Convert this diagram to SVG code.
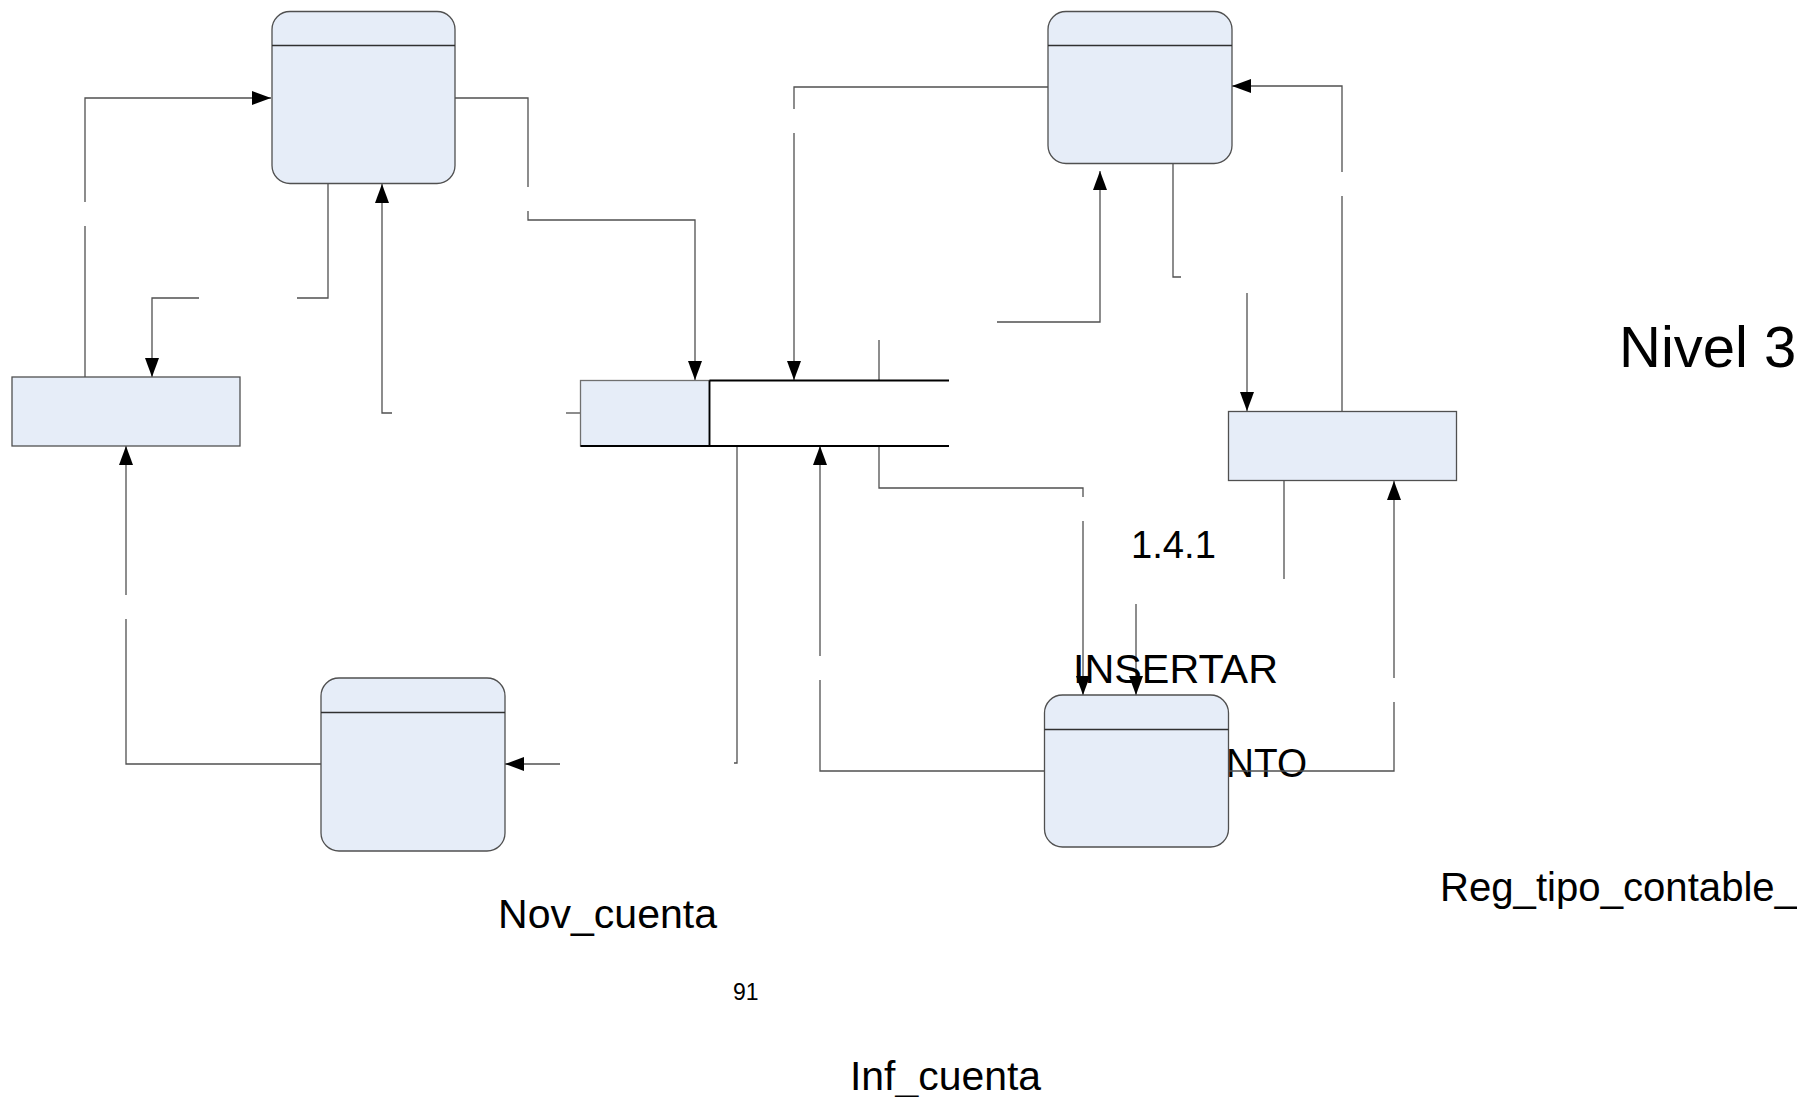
<svg xmlns="http://www.w3.org/2000/svg" width="1797" height="1097" viewBox="0 0 1797 1097">
<defs>
<style>
.node{fill:#E6EDF8;stroke:#505050;stroke-width:1.3}
.hdr{stroke:#303030;stroke-width:1.3;fill:none}
.ent{fill:#E6EDF8;stroke:#505050;stroke-width:1.3}
.con{fill:none;stroke:#505050;stroke-width:1.3}
.ds{stroke:#000000;stroke-width:1.8;fill:none}
.t{font-family:"Liberation Sans",Arial,sans-serif;fill:#000000}
</style>
<marker id="arr" markerUnits="userSpaceOnUse" markerWidth="20" markerHeight="14" refX="19" refY="7" orient="auto">
<path d="M0,0 L19,7 L0,14 z" fill="#000000"/>
</marker>
</defs>
<rect width="1797" height="1097" fill="#ffffff"/>

<g id="labels-behind">
<text class="t" x="1226" y="777" font-size="41" textLength="81" lengthAdjust="spacingAndGlyphs">NTO</text>
</g>

<g id="connectors">
<path class="con" d="M85,377 V226"/>
<path class="con" d="M85,202 V98 H271" marker-end="url(#arr)"/>
<path class="con" d="M328,184 V298 H297"/>
<path class="con" d="M199,298 H152 V377" marker-end="url(#arr)"/>
<path class="con" d="M580,413 H566"/>
<path class="con" d="M392,413 H382 V184" marker-end="url(#arr)"/>
<path class="con" d="M455,98 H528 V187"/>
<path class="con" d="M528,211 V220 H695 V380" marker-end="url(#arr)"/>
<path class="con" d="M1048,87 H794 V109"/>
<path class="con" d="M794,133 V380" marker-end="url(#arr)"/>
<path class="con" d="M879,340 V380"/>
<path class="con" d="M997,322 H1100 V171" marker-end="url(#arr)"/>
<path class="con" d="M1173,163 V277 H1181"/>
<path class="con" d="M1247,293 V411" marker-end="url(#arr)"/>
<path class="con" d="M1342,411 V196"/>
<path class="con" d="M1342,172 V86 H1232" marker-end="url(#arr)"/>
<path class="con" d="M737,446 V763 H734"/>
<path class="con" d="M560,764 H505" marker-end="url(#arr)"/>
<path class="con" d="M1044,771 H820 V680"/>
<path class="con" d="M820,656 V446" marker-end="url(#arr)"/>
<path class="con" d="M879,446 V488 H1083 V497"/>
<path class="con" d="M1083,521 V695" marker-end="url(#arr)"/>
<path class="con" d="M1136,604 V695" marker-end="url(#arr)"/>
<path class="con" d="M1284,481 V579"/>
<path class="con" d="M1229,771 H1394 V702"/>
<path class="con" d="M1394,678 V481" marker-end="url(#arr)"/>
<path class="con" d="M321,764 H126 V619"/>
<path class="con" d="M126,595 V446" marker-end="url(#arr)"/>
</g>

<g id="node-top-left">
<rect class="node" x="272" y="11.5" width="183" height="172" rx="18" ry="18"/>
<line class="hdr" x1="272" y1="45.5" x2="455" y2="45.5"/>
</g>
<g id="node-top-right">
<rect class="node" x="1048" y="11.5" width="184" height="152" rx="18" ry="18"/>
<line class="hdr" x1="1048" y1="45.5" x2="1232" y2="45.5"/>
</g>
<g id="node-bottom-left">
<rect class="node" x="321" y="678" width="184" height="173" rx="18" ry="18"/>
<line class="hdr" x1="321" y1="712.5" x2="505" y2="712.5"/>
</g>
<g id="node-bottom-right">
<rect class="node" x="1044.5" y="695" width="184" height="152" rx="18" ry="18"/>
<line class="hdr" x1="1044.5" y1="729.5" x2="1228.5" y2="729.5"/>
</g>
<g id="entity-left">
<rect class="ent" x="12" y="377" width="228" height="69"/>
</g>
<g id="entity-right">
<rect class="ent" x="1228.5" y="411.5" width="228" height="69"/>
</g>
<g id="data-store">
<rect x="580.5" y="380.5" width="129" height="65.5" fill="#E6EDF8" stroke="#707070" stroke-width="1.3"/>
<line class="ds" x1="709.5" y1="380.5" x2="709.5" y2="446"/>
<line class="ds" x1="580.5" y1="446" x2="949" y2="446"/>
<line class="ds" x1="709.5" y1="380.5" x2="949" y2="380.5"/>
</g>

<g id="texts">
<text class="t" x="1619" y="367" font-size="58">Nivel 3</text>
<text class="t" x="1131" y="558" font-size="39" textLength="85" lengthAdjust="spacingAndGlyphs">1.4.1</text>
<text class="t" x="1073" y="683" font-size="40" textLength="205" lengthAdjust="spacingAndGlyphs">INSERTAR</text>
<text class="t" x="1440" y="901" font-size="40" textLength="357" lengthAdjust="spacingAndGlyphs">Reg_tipo_contable_</text>
<text class="t" x="498" y="928" font-size="40" textLength="219" lengthAdjust="spacingAndGlyphs">Nov_cuenta</text>
<text class="t" x="733" y="1000" font-size="23">91</text>
<text class="t" x="850" y="1090" font-size="40" textLength="191" lengthAdjust="spacingAndGlyphs">Inf_cuenta</text>
</g>
</svg>
